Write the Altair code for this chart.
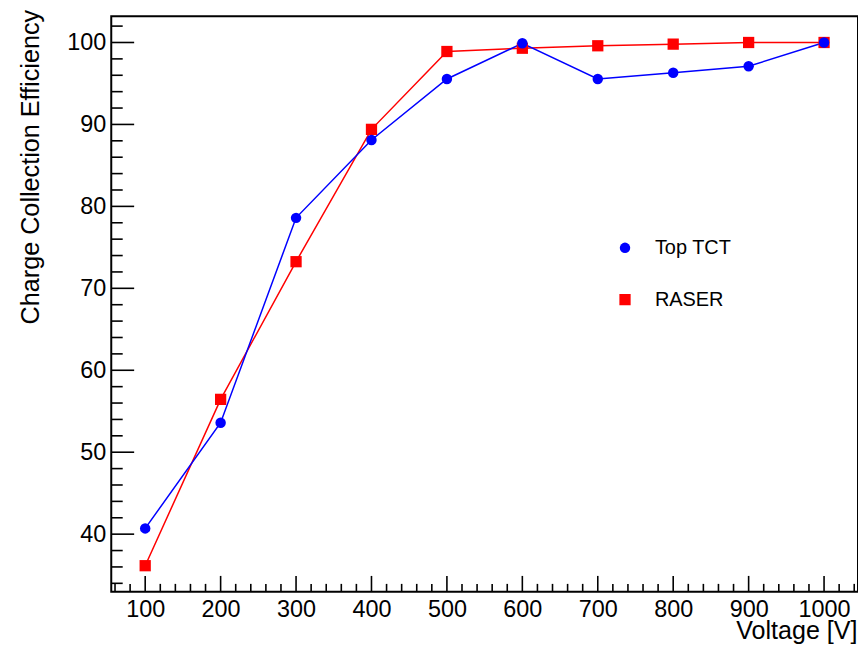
import altair as alt
import pandas as pd

voltage = [100, 200, 300, 400, 500, 600, 700, 800, 900, 1000]
top_tct = [40.7, 53.6, 78.6, 88.1, 95.55, 99.9, 95.55, 96.3, 97.1, 100.0]
raser = [36.15, 56.45, 73.25, 89.4, 98.9, 99.3, 99.6, 99.8, 100.0, 100.0]
series_names = ["Top TCT", "RASER"]
series_colors = ["#0000ff", "#ff0000"]

x_major = [100, 200, 300, 400, 500, 600, 700, 800, 900, 1000]
x_minor = [v for v in range(60, 1045, 20) if v % 100 != 0]
y_major = [40, 50, 60, 70, 80, 90, 100]
y_minor = [v for v in range(34, 104, 2) if v % 10 != 0]

X_DOMAIN = [55, 1045]
Y_DOMAIN = [32.96, 103.19]
W, H = 750, 578
FONT = "Liberation Sans"

rows = []
for name, vals in (("RASER", raser), ("Top TCT", top_tct)):
    for v, c in zip(voltage, vals):
        rows.append({"voltage": v, "cce": c, "series": name})
df = pd.DataFrame(rows)

xs = alt.Scale(domain=X_DOMAIN, nice=False, zero=False)
ys = alt.Scale(domain=Y_DOMAIN, nice=False, zero=False)

x_axis = alt.Axis(
    values=x_major, format="d", labelFontSize=23.5, labelFont=FONT, labelColor="black",
    labelPadding=6, ticks=False, tickSize=0, domain=False, grid=False,
    title="Voltage [V]", titleFont=FONT, titleFontSize=25.2, titleFontWeight="normal",
    titleColor="black", titleAlign="right", titleBaseline="alphabetic",
    titleX=749, titleY=47, titleAngle=0,
)
y_axis = alt.Axis(
    values=y_major, format="d", labelFontSize=23.5, labelFont=FONT, labelColor="black",
    labelPadding=5.5, ticks=False, tickSize=0, domain=False, grid=False,
    title="Charge Collection Efficiency", titleFont=FONT, titleFontSize=25.3,
    titleFontWeight="normal", titleColor="black", titleAngle=270,
    titleAlign="right", titleBaseline="alphabetic", titleX=-73, titleY=-7,
)

base = alt.Chart(df)

red_line = base.transform_filter(alt.datum.series == "RASER").mark_line(
    strokeWidth=1.5, color="#ff0000"
).encode(
    x=alt.X("voltage:Q", scale=xs, axis=x_axis),
    y=alt.Y("cce:Q", scale=ys, axis=y_axis),
)
blue_line = base.transform_filter(alt.datum.series == "Top TCT").mark_line(
    strokeWidth=1.5, color="#0000ff"
).encode(
    x=alt.X("voltage:Q", scale=xs),
    y=alt.Y("cce:Q", scale=ys),
)

points = base.mark_point(filled=True, opacity=1, strokeWidth=0).encode(
    x=alt.X("voltage:Q", scale=xs),
    y=alt.Y("cce:Q", scale=ys),
    color=alt.Color("series:N", scale=alt.Scale(domain=series_names, range=series_colors),
                    legend=alt.Legend(title=None)),
    shape=alt.Shape("series:N", scale=alt.Scale(domain=series_names, range=["circle", "square"]),
                    legend=alt.Legend(title=None)),
    size=alt.Size("series:N", scale=alt.Scale(domain=series_names, range=[110, 128]), legend=None),
    order=alt.Order("series:N", sort="ascending"),
)

xmaj_df = pd.DataFrame({"v": x_major})
xmin_df = pd.DataFrame({"v": x_minor})
ymaj_df = pd.DataFrame({"v": y_major})
ymin_df = pd.DataFrame({"v": y_minor})

x_major_ticks = alt.Chart(xmaj_df).mark_rule(color="black", strokeWidth=1.6).encode(
    x=alt.X("v:Q", scale=xs), y=alt.value(H), y2=alt.value(H - 16))
x_minor_ticks = alt.Chart(xmin_df).mark_rule(color="black", strokeWidth=1.6).encode(
    x=alt.X("v:Q", scale=xs), y=alt.value(H), y2=alt.value(H - 8))
y_major_ticks = alt.Chart(ymaj_df).mark_rule(color="black", strokeWidth=1.6).encode(
    y=alt.Y("v:Q", scale=ys), x=alt.value(0), x2=alt.value(23))
y_minor_ticks = alt.Chart(ymin_df).mark_rule(color="black", strokeWidth=1.6).encode(
    y=alt.Y("v:Q", scale=ys), x=alt.value(0), x2=alt.value(11.5))

chart = alt.layer(
    x_major_ticks, x_minor_ticks, y_major_ticks, y_minor_ticks,
    red_line, blue_line, points,
).properties(
    width=W, height=H,
    autosize=alt.AutoSizeParams(type="none"),
    padding={"left": 103.7, "top": 7, "right": 0, "bottom": 52},
).configure_view(
    stroke="black", strokeWidth=2
).configure_legend(
    orient="none", legendX=506, legendY=222.5, padding=0,
    labelFontSize=20, labelFont=FONT, labelColor="black",
    symbolStrokeWidth=0, rowPadding=32, labelOffset=20, symbolSize=110,
)

chart.save("out.html", embed_options={"renderer": "svg", "actions": False})
